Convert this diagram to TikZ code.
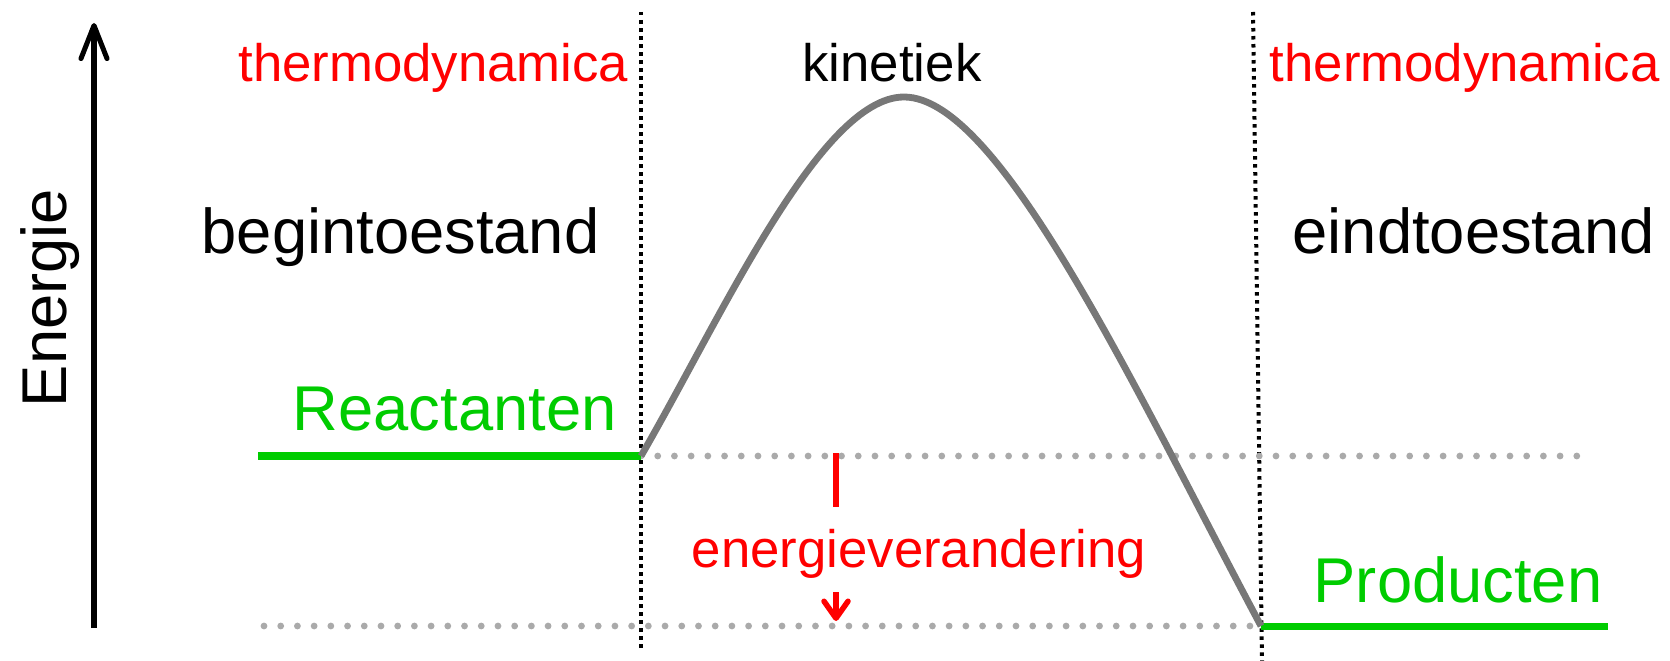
\documentclass[tikz,border=0pt]{standalone}
\usepackage{fontspec}
\setmainfont{Liberation Sans}
\usetikzlibrary{arrows.meta}
\definecolor{levelgreen}{HTML}{00CC00}
\definecolor{curvegray}{HTML}{777777}
\definecolor{dotgray}{HTML}{AAAAAA}

\begin{document}
\begin{tikzpicture}[x=0.01cm, y=-0.01cm,
  lbl/.style={inner sep=0pt, font=\fontsize{15}{18}\selectfont},
  biglbl/.style={inner sep=0pt, font=\fontsize{18}{21}\selectfont},
  level/.style={levelgreen, line width=0.07cm},
  guide/.style={dotgray, line width=0.068cm, line cap=round, dash pattern=on 0pt off 0.167cm},
  border/.style={black, line width=0.04cm, dash pattern=on 0.035cm off 0.045cm},
  redarrow/.style={red, line width=0.055cm}]
\useasboundingbox (0,0) rectangle (1670,661);
\coordinate (R) at (641,456);
\coordinate (Rl) at (258,456);
\coordinate (Rr) at (1590,456);
\coordinate (P) at (1261,626);
\coordinate (Pl) at (264,626);
\coordinate (Pr) at (1608,626);
\coordinate (top) at (904,97);
\coordinate (ax0) at (94,628);
\coordinate (ax1) at (94,23);
\node[biglbl, rotate=90, anchor=base] (energie) at (66,298) {Energie};
\node[lbl, red, anchor=base east] (thermoL) at (629,82) {thermodynamica};
\node[lbl, anchor=base] (kin) at (892,82) {kinetiek};
\node[lbl, red, anchor=base west] (thermoR) at (1269,82) {thermodynamica};
\node[biglbl, anchor=base west] (begin) at (201,254) {begintoestand};
\node[biglbl, anchor=base west] (eind) at (1292,254) {eindtoestand};
\node[biglbl, levelgreen, anchor=base west] (react) at (292,430) {Reactanten};
\node[biglbl, levelgreen, anchor=base west] (prod) at (1313,602) {Producten};
\node[lbl, red, anchor=base] (dE) at (919,567) {energieverandering};
\draw[line width=0.05cm, -{Straight Barb[length=0.33cm, width=0.26cm, round]}] (ax0) -- (ax1);
\draw[border] (641,12) -- (641,648);
\draw[border] (1253,12) -- (1262,661);
\draw[guide] (R) -- (Rr);
\draw[guide] (Pl) -- (P);
\draw[level] (Rl) -- (R);
\draw[level] (P) -- (Pr);
\draw[curvegray, line width=0.068cm] (R) .. controls (720,320) and (820,97) .. (top)
  .. controls (1000,97) and (1135,390) .. (P);
\coordinate (dEtop) at (836,453);
\coordinate (dEmid) at (836,507);
\coordinate (dEarr) at (836,592);
\coordinate (dEtip) at (836,621);
\draw[redarrow] (dEtop) -- (dEmid);
\draw[redarrow, -{Straight Barb[length=0.17cm, width=0.24cm, round]}] (dEarr) -- (dEtip);
\end{tikzpicture}
\end{document}
